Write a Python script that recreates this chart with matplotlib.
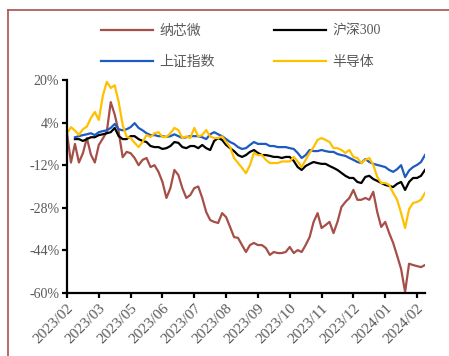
import numpy as np
import matplotlib
matplotlib.use("Agg")
import matplotlib.pyplot as plt
from matplotlib.lines import Line2D

plt.rcParams["font.family"] = ["Liberation Serif", "Noto Sans CJK SC"]

# cumulative return (%), sampled roughly every 2-3 trading days
nxw = [0, -11, -4, -11, -7.5, -1.8, -8, -11, -4.4, -2, 0.5, 11.7, 7, 0.5, -9,
       -7, -7.5, -9.3, -12, -10, -9.3, -12.7, -12, -14.5, -18.3, -24.3, -20.6,
       -13.8, -15.7, -20.6, -24.3, -23.2, -20.6, -20, -24.3, -29.6, -32.6, -33.3,
       -33.7, -30, -31.5, -35.2, -39, -39.3, -42, -44.6, -42, -41.2, -42, -42,
       -43.1, -45.7, -44.6, -45, -45, -44.6, -42.7, -45, -43.9, -44.6, -42, -39,
       -33.3, -30, -35.6, -34.5, -33.3, -37.5, -33.3, -27.7, -25.8, -24.3, -21.3,
       -25, -25, -24.3, -25, -22, -29.6, -35.2, -33.3, -37.5, -41.2, -46, -51,
       -59.6, -49, -49.5, -49.9, -50.3, -49.5]
hs300 = [np.nan, np.nan, -2.2, -2.2, -2.9, -2.2, -1.5, -1.5, -0.7, -0.4, 0, 0.4,
         2, -1.1, -2.2, -2.2, -1.1, -1.1, -2.2, -2.9, -3.3, -4.8, -5.2, -5.2,
         -5.9, -5.6, -4.8, -3.3, -3.6, -5.2, -5.6, -4.8, -4.8, -5.6, -4.4, -5.6,
         -6.3, -2.9, -1.8, -2.5, -4.4, -5.6, -6.7, -8.2, -8.9, -8.2, -7, -6.3,
         -7.4, -8.2, -8.2, -8.5, -8.9, -8.9, -9.3, -8.9, -8.9, -10.4, -12.7,
         -13.8, -12.3, -11.5, -10.8, -11.2, -11.5, -11.5, -12.3, -13, -13.8,
         -14.9, -16, -16.8, -16.8, -18.3, -18.7, -16.4, -16, -17.2, -17.9,
         -18.7, -19.4, -19.8, -20.2, -19, -18.3, -21.3, -18.3, -16.8, -16.8,
         -16, -13.8]
sse = [np.nan, np.nan, -1.5, -1.1, -0.7, -0.4, 0, -0.7, 0.4, 0.8, 1.1, 2, 3.5,
       1.5, 1.1, 1.5, 2.3, 3.8, 2, 1.1, 0, -0.7, -0.7, -1.1, -1.1, -1.4, -1.1,
       -0.4, -1.1, -1.8, -1.5, -1.1, -1.1, -1.1, -1.5, -2.2, -0.4, 0.4, -0.4,
       -1.1, -2.2, -3.3, -4, -5.2, -5.9, -5.6, -4.4, -3.3, -4, -4, -4, -4.8,
       -4.8, -5.2, -5.2, -5.2, -5.6, -5.9, -7.4, -9.3, -8.2, -6.3, -6.7, -6.7,
       -6.3, -6.7, -7, -7, -7.8, -8.2, -8.5, -9.3, -10, -10.8, -11.2, -9.7,
       -10.8, -11.5, -11.9, -12.3, -12.7, -13.8, -14.5, -13.5, -12, -16.5, -14,
       -12.7, -11.9, -10.8, -8.2]
semi = [0, 2.3, 1, -0.6, 1.5, 2.5, 5.7, 8, 5, 14, 19.3, 17, 18, 11.7, 3.1, -1.4,
        -1.8, -3.6, -5.2, -3.3, -0.7, -1.4, 0, 0.4, -1.4, -1.4, 0, 2, 1.2, -1.8,
        -1.2, -1.8, 2, -1.2, -0.7, 1.2, -1.2, -1.8, -1.8, -1.2, -3.3, -5.2, -9.3,
        -11.2, -13, -15, -12, -7.4, -8.2, -8.2, -10, -11.2, -11.2, -11.2, -10.6,
        -10.6, -10.6, -8.9, -10.6, -12.7, -10, -7.4, -5.2, -2.5, -1.8, -2.5, -3.3,
        -5.6, -5.6, -6.3, -7.4, -6.3, -8.9, -9.3, -11.2, -10, -9.3, -11.9, -16.4,
        -18.7, -18.7, -19.4, -22.4, -25, -30, -35.6, -28.5, -26.2, -25.8, -25,
        -22.4]

tick_labels = ["2023/02", "2023/03", "2023/05", "2023/06", "2023/07", "2023/08",
               "2023/09", "2023/10", "2023/11", "2023/12", "2024/01", "2024/02"]
y_ticks = [20, 4, -12, -28, -44, -60]

names = ["纳芯微", "沪深300", "上证指数", "半导体"]
colors = ["#A64F49", "#000000", "#1C5BC2", "#FFC000"]

fig = plt.figure(figsize=(4.49, 3.56), dpi=100)
ax = fig.add_axes([0.1492, 0.177, 0.7973, 0.5983])

x = np.arange(len(nxw))
lines = []
for vals, name, c in zip([nxw, hs300, sse, semi], names, colors):
    ln, = ax.plot(x, vals, color=c, lw=1.6, label=name, solid_joinstyle="round")
    lines.append(ln)

ax.set_xlim(0, len(nxw) - 1)
ax.set_ylim(-60, 20)
ax.set_yticks(y_ticks)
ax.set_yticklabels([f"{v}%" for v in y_ticks])
ax.set_xticks(np.arange(len(tick_labels)) * 8)
ax.set_xticklabels(tick_labels, rotation=45, ha="right", rotation_mode="anchor")

for s in ["top", "right"]:
    ax.spines[s].set_visible(False)
for s in ["left", "bottom"]:
    ax.spines[s].set_linewidth(1.6)
    ax.spines[s].set_color("black")
ax.tick_params(axis="both", direction="out", length=3.5, width=1.6,
               colors="black", labelcolor="#595959")
ax.tick_params(axis="y", labelsize=10, pad=2)
ax.tick_params(axis="x", labelsize=11, pad=3)

# legend: row-major order like the original
order = [0, 2, 1, 3]
fig.legend([lines[i] for i in order], [names[i] for i in order],
           loc="upper left", bbox_to_anchor=(101 / 449, 1 - 25 / 356),
           ncol=2, frameon=False, fontsize=10, handlelength=3.75,
           handletextpad=0.45, columnspacing=4.25, labelspacing=1.3,
           borderpad=0, borderaxespad=0, labelcolor="#595959")

# outer frame
frame_c = "#A9524C"
fig.add_artist(Line2D([8 / 449, 8 / 449], [0, 1 - 10 / 356], color=frame_c,
                      lw=1.2, transform=fig.transFigure))
fig.add_artist(Line2D([8 / 449, 1], [1 - 10 / 356, 1 - 10 / 356], color=frame_c,
                      lw=1.2, transform=fig.transFigure))

fig.savefig("out.png", dpi=100)
